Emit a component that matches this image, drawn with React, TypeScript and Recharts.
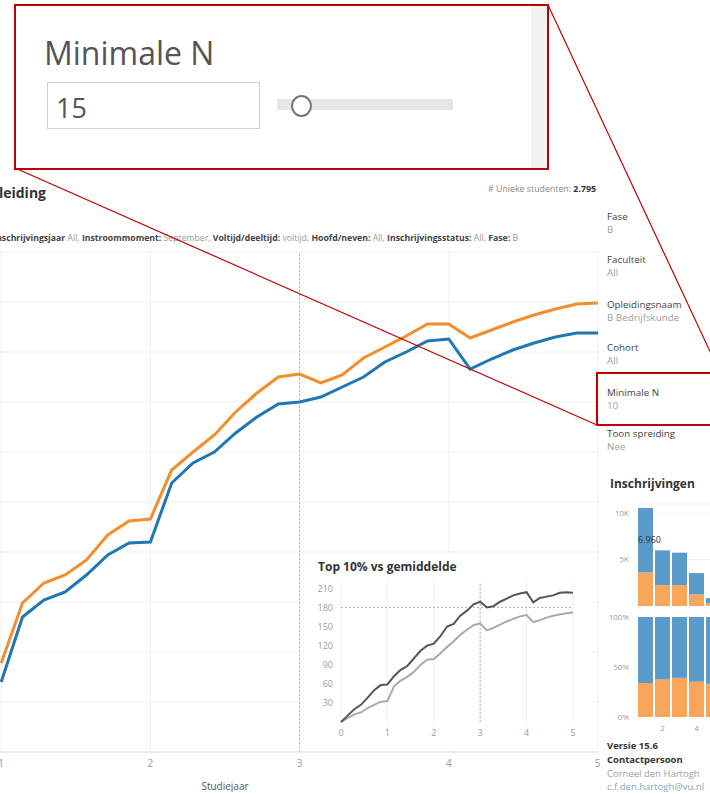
import React from "react";
import { LineChart, Line, XAxis, YAxis, CartesianGrid, ReferenceLine, BarChart, Bar, LabelList } from "recharts";

const STAPPEN_PER_JAAR = 7;

// hoofdgrafiek: studiejaar 1 t/m 5, 7 meetmomenten per jaar
const opleidingEC = [35.6, 59.6, 67.6, 70.8, 76.8, 86.8, 92.4, 93.2, 112.8, 120, 126.8, 136, 143.6, 150, 151.2,
  147.6, 150.8, 157.6, 162, 166.4, 171.2, 171.2, 165.6, 168.8, 172, 174.8, 177.2, 179.2, 179.6];
const faculteitEC = [28, 54, 60.8, 64, 70.8, 78.8, 83.6, 84, 107.6, 115.6, 120, 127.6, 134, 139.2, 140,
  142, 146, 150, 156, 160, 164.4, 165.2, 153.2, 157.2, 160.8, 163.6, 166, 167.6, 167.6];

// inzet: top 10% vs gemiddelde, studiejaar 0 t/m 5
const top10EC = [0, 10, 20, 27, 38, 50, 58, 59, 72, 82, 88, 100, 112, 120, 123, 135, 150, 154, 167, 175, 185,
  189, 180, 182, 189, 194, 199, 202, 204, 188, 195, 197, 199, 203, 204, 203];
const gemiddeldEC = [0, 6, 12, 15, 22, 27, 32, 33, 56, 65, 71, 79, 90, 98, 99, 108, 118, 127, 137, 145, 152,
  155, 144, 148, 153, 158, 162, 166, 168, 157, 160, 164, 167, 169, 171, 172];

// inschrijvingen per jaar
const jaren = [1, 2, 3, 4, 5];
const inschrijvingenBlauw = [6960, 3750, 3500, 2300, 560];
const inschrijvingenOranje = [3600, 2250, 2250, 1250, 280];

const hoofdTicksX = [0, 1, 2, 3, 4, 5];
const hoofdTicksY = [0, 20, 40, 60, 80, 100, 120, 140, 160, 180, 200];
const inzetTicksY = [30, 60, 90, 120, 150, 180, 210];

const ORANJE = "#f28e2b";
const BLAUW = "#1f77b4";
const BAR_BLAUW = "#5a9bcb";
const BAR_ORANJE = "#f9a65a";
const ROOD = "#c00000";

const hoofdData = opleidingEC.map((v, i) => ({
  jaar: 1 + i / STAPPEN_PER_JAAR,
  opleiding: v,
  faculteit: faculteitEC[i],
}));

const inzetData = top10EC.map((v, i) => ({
  jaar: i / STAPPEN_PER_JAAR,
  top10: v,
  gemiddeld: gemiddeldEC[i],
}));

const barData = jaren.map((j, i) => ({
  jaar: j,
  blauw: inschrijvingenBlauw[i],
  oranje: inschrijvingenOranje[i],
}));

const nlGetal = (v: number) => String(v).replace(/\B(?=(\d{3})+(?!\d))/g, ".");

function Txt({ x, y, size = 10, bold = false, color = "#333", children, right }: any) {
  const pos: any = right !== undefined ? { right } : { left: x };
  return (
    <div
      style={{
        position: "absolute",
        ...pos,
        top: y - size * 0.7,
        fontSize: size,
        lineHeight: `${size * 1.4}px`,
        fontWeight: bold ? 700 : 400,
        color,
        whiteSpace: "nowrap",
      }}
    >
      {children}
    </div>
  );
}

const filters: [string, string][] = [
  ["Inschrijvingsjaar ", "All, "],
  ["Instroommoment: ", "September, "],
  ["Voltijd/deeltijd: ", "voltijd, "],
  ["Hoofd/neven: ", "All, "],
  ["Inschrijvingsstatus: ", "All, "],
  ["Fase: ", "B"],
];

const sidebar: [string, string, number][] = [
  ["Fase", "B", 217],
  ["Faculteit", "All", 260],
  ["Opleidingsnaam", "B Bedrijfskunde", 305],
  ["Cohort", "All", 348],
  ["Minimale N", "10", 393],
  ["Toon spreiding", "Nee", 434],
];

const tickGrijs = { fontSize: 9, fill: "#9a9a9a" };

export default function App() {
  return (
    <div
      style={{
        position: "fixed",
        left: 0,
        top: 0,
        width: 710,
        height: 794,
        overflow: "hidden",
        background: "#fff",
        fontFamily: "'Open Sans', sans-serif",
      }}
    >
      {/* titel en filters */}
      <Txt right={664} y={193} size={14} bold color="#333">Studievoortgang per opleiding</Txt>
      <Txt right={114} y={189} size={8.8} color="#888">
        # Unieke studenten: <b style={{ color: "#333" }}>2.795</b>
      </Txt>
      <Txt right={192} y={238} size={8.7} color="#999">
        {filters.map(([k, v]) => (
          <span key={k}>
            <b style={{ color: "#444" }}>{k}</b>
            {v}
          </span>
        ))}
      </Txt>

      {/* hoofdgrafiek */}
      <div style={{ position: "absolute", left: -200, top: 240 }}>
        <LineChart width={800} height={552} data={hoofdData} margin={{ top: 12, right: 2, left: 52, bottom: 0 }}>
          <CartesianGrid stroke="#efefef" />
          <XAxis
            type="number"
            dataKey="jaar"
            domain={[0, 5]}
            ticks={hoofdTicksX}
            height={40}
            tick={{ fontSize: 10, fill: "#9a9a9a" }}
            tickLine={false}
            axisLine={{ stroke: "#e2e2e2" }}
            label={{ value: "Studiejaar", position: "insideBottom", offset: 2, fontSize: 10, fill: "#555" }}
          />
          <YAxis hide type="number" domain={[0, 200]} ticks={hoofdTicksY} />
          <ReferenceLine x={3} stroke="#b5b5b5" strokeDasharray="2 2" />
          <Line type="linear" dataKey="faculteit" stroke={BLAUW} strokeWidth={3} dot={false} isAnimationActive={false} />
          <Line type="linear" dataKey="opleiding" stroke={ORANJE} strokeWidth={3} dot={false} isAnimationActive={false} />
        </LineChart>
      </div>

      {/* inzet: top 10% vs gemiddelde */}
      <div style={{ position: "absolute", left: 305, top: 553, width: 287, height: 197, background: "#fff" }}>
        <Txt x={13} y={14} size={12} bold color="#333">Top 10% vs gemiddelde</Txt>
        <div style={{ position: "absolute", left: 0, top: 22 }}>
          <LineChart width={285} height={167} data={inzetData} margin={{ top: 7, right: 17, left: 6, bottom: 0 }}>
            <CartesianGrid horizontal={false} stroke="#efefef" />
            <XAxis
              type="number"
              dataKey="jaar"
              domain={[0, 5]}
              ticks={hoofdTicksX}
              height={20}
              tick={tickGrijs}
              tickLine={false}
              axisLine={false}
            />
            <YAxis
              type="number"
              domain={[0, 220]}
              ticks={inzetTicksY}
              width={30}
              tick={tickGrijs}
              tickLine={false}
              axisLine={false}
            />
            <ReferenceLine x={3} stroke="#b5b5b5" strokeDasharray="2 2" />
            <ReferenceLine y={180} stroke="#b5b5b5" strokeDasharray="2 2" />
            <Line type="linear" dataKey="gemiddeld" stroke="#a9a9b3" strokeWidth={2} dot={false} isAnimationActive={false} />
            <Line type="linear" dataKey="top10" stroke="#555" strokeWidth={2} dot={false} isAnimationActive={false} />
          </LineChart>
        </div>
      </div>

      {/* zijbalk */}
      {sidebar.map(([k, v, y]) => (
        <React.Fragment key={k}>
          <Txt x={607} y={y} size={9.8} color="#444">{k}</Txt>
          <Txt x={607} y={y + 12.5} size={9.8} color="#a0a0a0">{v}</Txt>
        </React.Fragment>
      ))}

      <Txt x={610} y={484} size={12} bold color="#333">Inschrijvingen</Txt>

      <div style={{ position: "absolute", left: 597, top: 500 }}>
        <BarChart width={125} height={106} data={barData} margin={{ top: 4, right: 0, left: 0, bottom: 0 }} barCategoryGap={1}>
          <CartesianGrid vertical={false} stroke="#f0f0f0" />
          <XAxis hide dataKey="jaar" />
          <YAxis
            domain={[0, 11000]}
            ticks={[0, 5000, 10000]}
            tickFormatter={(v: number) => `${v / 1000}K`}
            width={40}
            tick={{ fontSize: 8, fill: "#9a9a9a" }}
            tickLine={false}
            axisLine={false}
          />
          <Bar dataKey="oranje" stackId="a" fill={BAR_ORANJE} isAnimationActive={false} />
          <Bar dataKey="blauw" stackId="a" fill={BAR_BLAUW} isAnimationActive={false}>
            <LabelList
              dataKey="blauw"
              content={(p: any) =>
                Number(p.value) === Math.max(...inschrijvingenBlauw) ? (
                  <text x={p.x} y={p.y + p.height / 2} dy={3} fontSize={9} fill="#333">
                    {nlGetal(Number(p.value))}
                  </text>
                ) : null
              }
            />
          </Bar>
        </BarChart>
      </div>

      <div style={{ position: "absolute", left: 597, top: 612 }}>
        <BarChart width={125} height={125} data={barData} stackOffset="expand" margin={{ top: 5, right: 0, left: 0, bottom: 0 }} barCategoryGap={1}>
          <XAxis
            dataKey="jaar"
            height={20}
            tick={{ fontSize: 8, fill: "#9a9a9a" }}
            tickFormatter={(v: number) => (v % 2 === 0 ? String(v) : "")}
            tickLine={false}
            axisLine={false}
            interval={0}
          />
          <YAxis
            domain={[0, 1]}
            ticks={[0, 0.5, 1]}
            tickFormatter={(v: number) => `${Math.round(v * 100)}%`}
            width={40}
            tick={{ fontSize: 8, fill: "#9a9a9a" }}
            tickLine={false}
            axisLine={false}
          />
          <Bar dataKey="oranje" stackId="a" fill={BAR_ORANJE} isAnimationActive={false} />
          <Bar dataKey="blauw" stackId="a" fill={BAR_BLAUW} isAnimationActive={false} />
        </BarChart>
      </div>

      <Txt x={607} y={746} size={9.5} bold color="#333">Versie 15.6</Txt>
      <Txt x={607} y={760} size={9.5} bold color="#333">Contactpersoon</Txt>
      <Txt x={607} y={774} size={9.5} color="#a0a0a0">Corneel den Hartogh</Txt>
      <Txt x={607} y={787} size={9.5} color="#8fa3b8">c.f.den.hartogh@vu.nl</Txt>

      {/* uitvergroting Minimale N */}
      <div
        style={{
          position: "absolute",
          left: 14,
          top: 4,
          width: 535,
          height: 166,
          boxSizing: "border-box",
          border: `2px solid ${ROOD}`,
          background: "#fff",
        }}
      >
        <div style={{ position: "absolute", right: 0, top: 0, width: 16, height: "100%", background: "#f2f2f2" }} />
        <Txt x={28} y={47} size={32} color="#555">Minimale N</Txt>
        <div
          style={{
            position: "absolute",
            left: 31,
            top: 76,
            width: 213,
            height: 47,
            boxSizing: "border-box",
            border: "1px solid #cfcfcf",
          }}
        >
          <Txt x={8} y={25} size={27} color="#555">15</Txt>
        </div>
        <div style={{ position: "absolute", left: 261, top: 93, width: 176, height: 11, background: "#e6e6e6" }} />
        <div
          style={{
            position: "absolute",
            left: 275,
            top: 89,
            width: 21,
            height: 22,
            boxSizing: "border-box",
            borderRadius: "50%",
            border: "2px solid #777",
            background: "#fff",
          }}
        />
      </div>

      <svg width={710} height={794} style={{ position: "absolute", left: 0, top: 0, pointerEvents: "none" }}>
        <line x1={15} y1={168} x2={597} y2={425} stroke={ROOD} strokeWidth={1.2} />
        <line x1={548} y1={5} x2={722} y2={377} stroke={ROOD} strokeWidth={1.2} />
        <rect x={597} y={373} width={130} height={52} fill="none" stroke={ROOD} strokeWidth={2} />
      </svg>
    </div>
  );
}
